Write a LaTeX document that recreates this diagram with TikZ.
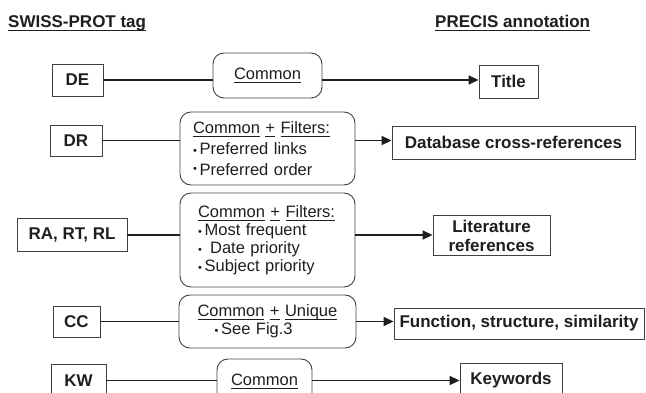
\documentclass[tikz,border=0pt]{standalone}
\usepackage{fontspec}
\setmainfont{Liberation Sans}
\usetikzlibrary{arrows.meta,calc}

\definecolor{ink}{HTML}{1E1E1E}
\newsavebox\ulbox
\newcommand{\undl}[1]{\sbox\ulbox{#1}\rlap{\rule[-3.5pt]{\wd\ulbox}{1.2pt}}\usebox\ulbox}
\newcommand{\bul}{{\fontsize{11}{11}\selectfont\textbullet}\,}

\begin{document}
\begin{tikzpicture}[x=1pt,y=-1pt,
    tag/.style={draw=ink!85,line width=0.9pt,inner sep=0pt,text=ink,
        font=\bfseries\fontsize{17}{20}\selectfont},
    filt/.style={draw=ink!85,line width=0.9pt,rounded corners=11pt,inner sep=0pt,
        text=ink,font=\fontsize{16.5}{18}\selectfont},
    head/.style={inner sep=0pt,text=ink,font=\bfseries\fontsize{17}{20}\selectfont},
    link/.style={draw=ink,line width=1.8pt},
    feed/.style={link,-{Triangle[length=10pt,width=9pt]}}]
\useasboundingbox (0,0) rectangle (646,393);
\clip (0,0) rectangle (646,393);

% column heads
\node[head,anchor=base west] (src) at (8,28) {\undl{SWISS-PROT tag}};
\node[head,anchor=base west] (dst) at (435,28) {\undl{PRECIS annotation}};

% DE
\node[tag,minimum width=51pt,minimum height=32pt] (de) at (77.5,80) {DE};
\node[filt,minimum width=109pt,minimum height=45pt] (c1) at (267.5,75.5) {\undl{Common}};
\node[tag,minimum width=59pt,minimum height=33pt] (ti) at (508.5,81.5) {Title};
\draw[link] (de) -- (de -| c1.west);
\draw[feed] (c1.east |- de) -- (de -| ti.west);

% DR
\node[tag,minimum width=52pt,minimum height=31pt] (dr) at (76,140.5) {DR};
\node[filt,minimum width=175pt,minimum height=73pt,text width=149pt,align=left,
    font=\fontsize{16.5}{21}\selectfont] (f2) at (267.5,148.5)
    {\undl{Common} \undl{+} \undl{Filters:}\\ \bul Preferred links\\ \raisebox{3pt}{\bul}Preferred order};
\node[tag,minimum width=243pt,minimum height=33pt] (db) at (513.5,142.5) {Database cross-references};
\draw[link] (dr) -- (dr -| f2.west);
\draw[feed] (f2.east |- dr) -- (dr -| db.west);

% RA, RT, RL
\node[tag,minimum width=110pt,minimum height=33pt] (ra) at (72,235) {RA, RT, RL};
\node[filt,minimum width=175pt,minimum height=94pt,text width=139pt,align=left] (f3) at (267.5,240)
    {\undl{Common} \undl{+} \undl{Filters:}\\ \bul Most frequent\\ \bul\ Date priority\\ \bul Subject priority};
\node[tag,minimum width=117pt,minimum height=40pt,align=center,
    font=\bfseries\fontsize{17}{19}\selectfont] (lit) at (491.5,235.5) {Literature\\references};
\draw[link,line width=2.8pt] (ra) -- (ra -| f3.west);
\draw[feed] (f3.east |- ra) -- (ra -| lit.west);
\draw[link,line width=2.8pt] (f3.east |- ra) -- ($(f3.east |- ra)!0.66!(ra -| lit.west)$);

% CC
\node[tag,minimum width=47pt,minimum height=31pt] (cc) at (76.5,321.5) {CC};
\node[filt,minimum width=177pt,minimum height=53pt,text width=150pt,align=left] (u4) at (267.5,321.5)
    {\hspace*{5pt}\undl{Common} \undl{+} \undl{Unique}\\ \hspace*{22pt}\bul See Fig.3};
\node[tag,minimum width=250pt,minimum height=31pt] (fn) at (519,323.5) {Function, structure, similarity};
\draw[link] (cc) -- (cc -| u4.west);
\draw[feed] (u4.east |- cc) -- (cc -| fn.west);

% KW
\node[tag,minimum width=55pt,minimum height=33pt] (kw) at (78.5,380.5) {KW};
\node[filt,minimum width=95pt,minimum height=45pt] (c5) at (264.5,381.5) {\undl{Common}};
\node[tag,minimum width=102pt,minimum height=34pt] (kwd) at (511,380.5) {Keywords};
\draw[link] (kw) -- (kw -| c5.west);
\draw[feed] (c5.east |- kw) -- (kw -| kwd.west);
\end{tikzpicture}
\end{document}
